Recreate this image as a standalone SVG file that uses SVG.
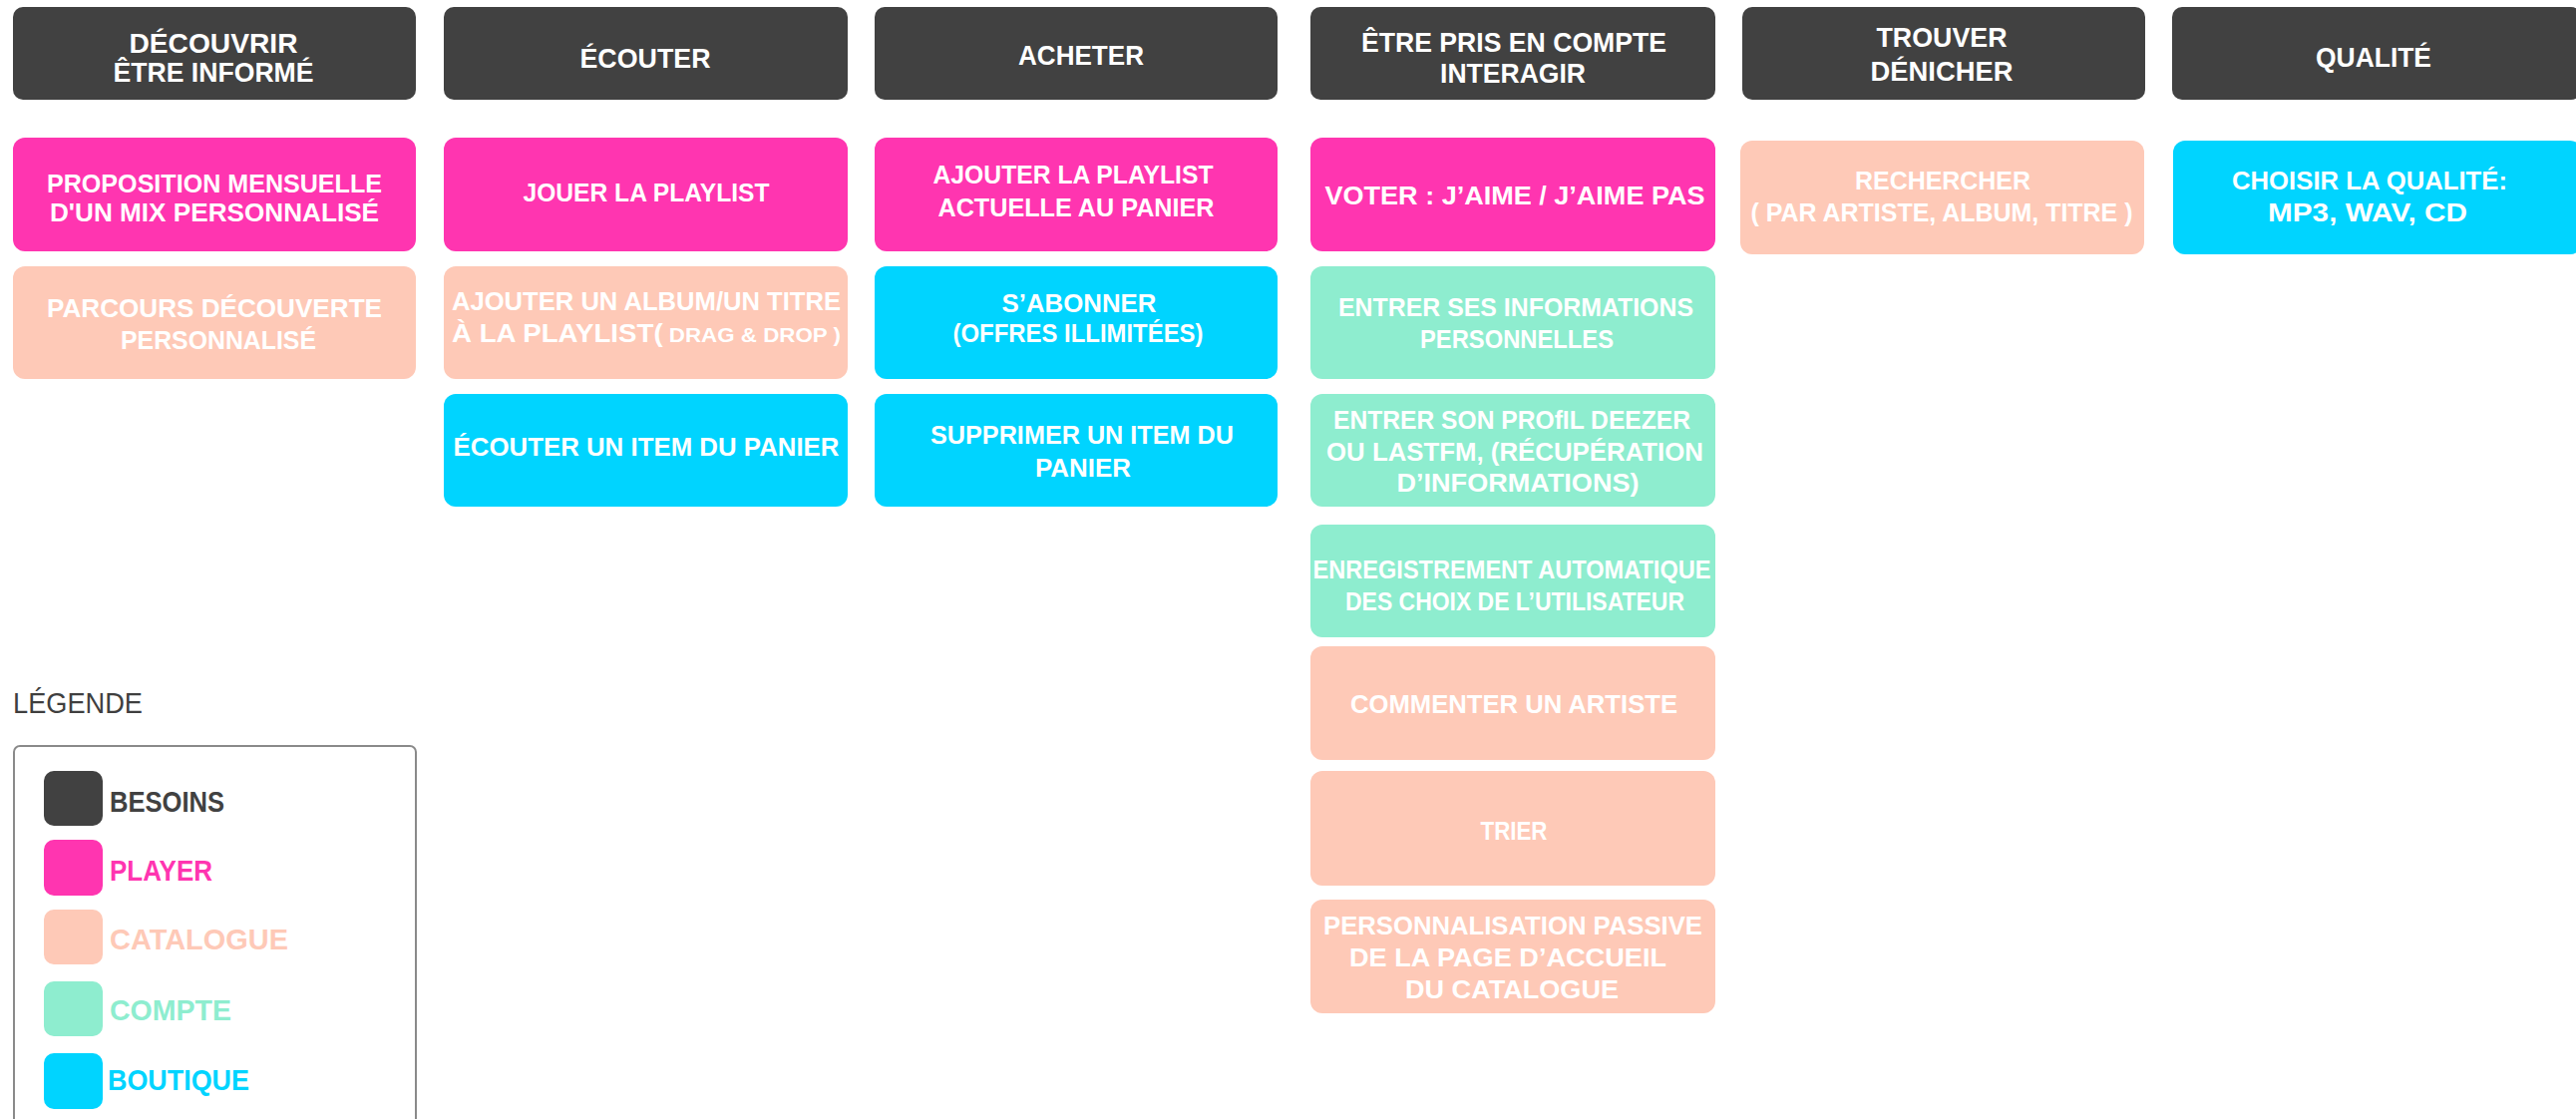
<svg xmlns="http://www.w3.org/2000/svg" width="2583" height="1122" viewBox="0 0 2583 1122">
<style>
.hd{fill:#414141}
.pk{fill:#ff35b0}
.pe{fill:#fec9b7}
.gr{fill:#8eedcf}
.cy{fill:#00d4ff}
text{font-family:"Liberation Sans",Arial,sans-serif;font-weight:bold}
.h{font-size:28px;fill:#ffffff;text-anchor:middle}
.n{font-size:26px;fill:#ffffff;text-anchor:middle}
.sm{font-size:21px}
.lg{font-size:30px}
</style>
<rect x="0" y="0" width="2583" height="1122" fill="#ffffff"/>
<g id="connectors"/>
<!-- headers -->
<g id="h1"><rect class="hd" x="13" y="7" width="404" height="93" rx="10"/><text class="h" x="214" y="53" textLength="169" lengthAdjust="spacingAndGlyphs">DÉCOUVRIR</text><text class="h" x="214" y="82" textLength="201" lengthAdjust="spacingAndGlyphs">ÊTRE INFORMÉ</text></g>
<g id="h2"><rect class="hd" x="445" y="7" width="405" height="93" rx="10"/><text class="h" x="647" y="68" textLength="131" lengthAdjust="spacingAndGlyphs">ÉCOUTER</text></g>
<g id="h3"><rect class="hd" x="877" y="7" width="404" height="93" rx="10"/><text class="h" x="1084" y="65" textLength="126" lengthAdjust="spacingAndGlyphs">ACHETER</text></g>
<g id="h4"><rect class="hd" x="1314" y="7" width="406" height="93" rx="10"/><text class="h" x="1518" y="52" textLength="306" lengthAdjust="spacingAndGlyphs">ÊTRE PRIS EN COMPTE</text><text class="h" x="1517" y="83" textLength="146" lengthAdjust="spacingAndGlyphs">INTERAGIR</text></g>
<g id="h5"><rect class="hd" x="1747" y="7" width="404" height="93" rx="10"/><text class="h" x="1947" y="47" textLength="131" lengthAdjust="spacingAndGlyphs">TROUVER</text><text class="h" x="1947" y="81" textLength="143" lengthAdjust="spacingAndGlyphs">DÉNICHER</text></g>
<g id="h6"><rect class="hd" x="2178" y="7" width="410" height="93" rx="10"/><text class="h" x="2380" y="67" textLength="116" lengthAdjust="spacingAndGlyphs">QUALITÉ</text></g>
<!-- column 1 -->
<g id="n1a"><rect class="pk" x="13" y="138" width="404" height="114" rx="12"/><text class="n" x="215" y="193" textLength="336" lengthAdjust="spacingAndGlyphs">PROPOSITION MENSUELLE</text><text class="n" x="215" y="222" textLength="330" lengthAdjust="spacingAndGlyphs">D'UN MIX PERSONNALISÉ</text></g>
<g id="n1b"><rect class="pe" x="13" y="267" width="404" height="113" rx="12"/><text class="n" x="215" y="318" textLength="336" lengthAdjust="spacingAndGlyphs">PARCOURS DÉCOUVERTE</text><text class="n" x="219" y="350" textLength="196" lengthAdjust="spacingAndGlyphs">PERSONNALISÉ</text></g>
<!-- column 2 -->
<g id="n2a"><rect class="pk" x="445" y="138" width="405" height="114" rx="12"/><text class="n" x="648" y="202" textLength="247" lengthAdjust="spacingAndGlyphs">JOUER LA PLAYLIST</text></g>
<g id="n2b"><rect class="pe" x="445" y="267" width="405" height="113" rx="12"/><text class="n" x="648" y="311" textLength="390" lengthAdjust="spacingAndGlyphs">AJOUTER UN ALBUM/UN TITRE</text><text class="n" x="648" y="343" textLength="390" lengthAdjust="spacingAndGlyphs">À LA PLAYLIST(<tspan class="sm"> DRAG &amp; DROP )</tspan></text></g>
<g id="n2c"><rect class="cy" x="445" y="395" width="405" height="113" rx="12"/><text class="n" x="648" y="457" textLength="387" lengthAdjust="spacingAndGlyphs">ÉCOUTER UN ITEM DU PANIER</text></g>
<!-- column 3 -->
<g id="n3a"><rect class="pk" x="877" y="138" width="404" height="114" rx="12"/><text class="n" x="1076" y="184" textLength="281" lengthAdjust="spacingAndGlyphs">AJOUTER LA PLAYLIST</text><text class="n" x="1079" y="217" textLength="277" lengthAdjust="spacingAndGlyphs">ACTUELLE AU PANIER</text></g>
<g id="n3b"><rect class="cy" x="877" y="267" width="404" height="113" rx="12"/><text class="n" x="1082" y="313" textLength="155" lengthAdjust="spacingAndGlyphs">S’ABONNER</text><text class="n" x="1081" y="343" textLength="251" lengthAdjust="spacingAndGlyphs">(OFFRES ILLIMITÉES)</text></g>
<g id="n3c"><rect class="cy" x="877" y="395" width="404" height="113" rx="12"/><text class="n" x="1085" y="445" textLength="304" lengthAdjust="spacingAndGlyphs">SUPPRIMER UN ITEM DU</text><text class="n" x="1086" y="478" textLength="96" lengthAdjust="spacingAndGlyphs">PANIER</text></g>
<!-- column 4 -->
<g id="n4a"><rect class="pk" x="1314" y="138" width="406" height="114" rx="12"/><text class="n" x="1519" y="205" textLength="381" lengthAdjust="spacingAndGlyphs">VOTER : J’AIME / J’AIME PAS</text></g>
<g id="n4b"><rect class="gr" x="1314" y="267" width="406" height="113" rx="12"/><text class="n" x="1520" y="317" textLength="356" lengthAdjust="spacingAndGlyphs">ENTRER SES INFORMATIONS</text><text class="n" x="1521" y="349" textLength="194" lengthAdjust="spacingAndGlyphs">PERSONNELLES</text></g>
<g id="n4c"><rect class="gr" x="1314" y="395" width="406" height="113" rx="12"/><text class="n" x="1516" y="430" textLength="358" lengthAdjust="spacingAndGlyphs">ENTRER SON PROfIL DEEZER</text><text class="n" x="1519" y="462" textLength="378" lengthAdjust="spacingAndGlyphs">OU LASTFM, (RÉCUPÉRATION</text><text class="n" x="1522" y="493" textLength="243" lengthAdjust="spacingAndGlyphs">D’INFORMATIONS)</text></g>
<g id="n4d"><rect class="gr" x="1314" y="526" width="406" height="113" rx="12"/><text class="n" x="1516" y="580" textLength="399" lengthAdjust="spacingAndGlyphs">ENREGISTREMENT AUTOMATIQUE</text><text class="n" x="1519" y="612" textLength="340" lengthAdjust="spacingAndGlyphs">DES CHOIX DE L’UTILISATEUR</text></g>
<g id="n4e"><rect class="pe" x="1314" y="648" width="406" height="114" rx="12"/><text class="n" x="1518" y="715" textLength="328" lengthAdjust="spacingAndGlyphs">COMMENTER UN ARTISTE</text></g>
<g id="n4f"><rect class="pe" x="1314" y="773" width="406" height="115" rx="12"/><text class="n" x="1518" y="842" textLength="67" lengthAdjust="spacingAndGlyphs">TRIER</text></g>
<g id="n4g"><rect class="pe" x="1314" y="902" width="406" height="114" rx="12"/><text class="n" x="1517" y="937" textLength="380" lengthAdjust="spacingAndGlyphs">PERSONNALISATION PASSIVE</text><text class="n" x="1512" y="969" textLength="318" lengthAdjust="spacingAndGlyphs">DE LA PAGE D’ACCUEIL</text><text class="n" x="1516" y="1001" textLength="214" lengthAdjust="spacingAndGlyphs">DU CATALOGUE</text></g>
<!-- column 5 -->
<g id="n5a"><rect class="pe" x="1745" y="141" width="405" height="114" rx="12"/><text class="n" x="1948" y="190" textLength="176" lengthAdjust="spacingAndGlyphs">RECHERCHER</text><text class="n" x="1947" y="222" textLength="383" lengthAdjust="spacingAndGlyphs">( PAR ARTISTE, ALBUM, TITRE )</text></g>
<!-- column 6 -->
<g id="n6a"><rect class="cy" x="2179" y="141" width="410" height="114" rx="12"/><text class="n" x="2376" y="190" textLength="276" lengthAdjust="spacingAndGlyphs">CHOISIR LA QUALITÉ:</text><text class="n" x="2374" y="222" textLength="200" lengthAdjust="spacingAndGlyphs">MP3, WAV, CD</text></g>
<!-- legend -->
<g id="legend">
<text x="13" y="715" style="font-size:29px;font-weight:normal;fill:#3f3f3f" textLength="130" lengthAdjust="spacingAndGlyphs">LÉGENDE</text>
<rect x="14" y="748" width="403" height="400" rx="6" fill="none" stroke="#8a8a8a" stroke-width="2"/>
<rect class="hd" x="44" y="773" width="59" height="55" rx="10"/>
<text class="lg" x="110" y="814" fill="#414141" textLength="115" lengthAdjust="spacingAndGlyphs">BESOINS</text>
<rect class="pk" x="44" y="842" width="59" height="56" rx="10"/>
<text class="lg" x="110" y="883" fill="#ff35b0" textLength="103" lengthAdjust="spacingAndGlyphs">PLAYER</text>
<rect class="pe" x="44" y="912" width="59" height="55" rx="10"/>
<text class="lg" x="110" y="952" fill="#fec9b7" textLength="179" lengthAdjust="spacingAndGlyphs">CATALOGUE</text>
<rect class="gr" x="44" y="984" width="59" height="55" rx="10"/>
<text class="lg" x="110" y="1023" fill="#8eedcf" textLength="122" lengthAdjust="spacingAndGlyphs">COMPTE</text>
<rect class="cy" x="44" y="1056" width="59" height="56" rx="10"/>
<text class="lg" x="108" y="1093" fill="#00d4ff" textLength="142" lengthAdjust="spacingAndGlyphs">BOUTIQUE</text>
</g>
</svg>
